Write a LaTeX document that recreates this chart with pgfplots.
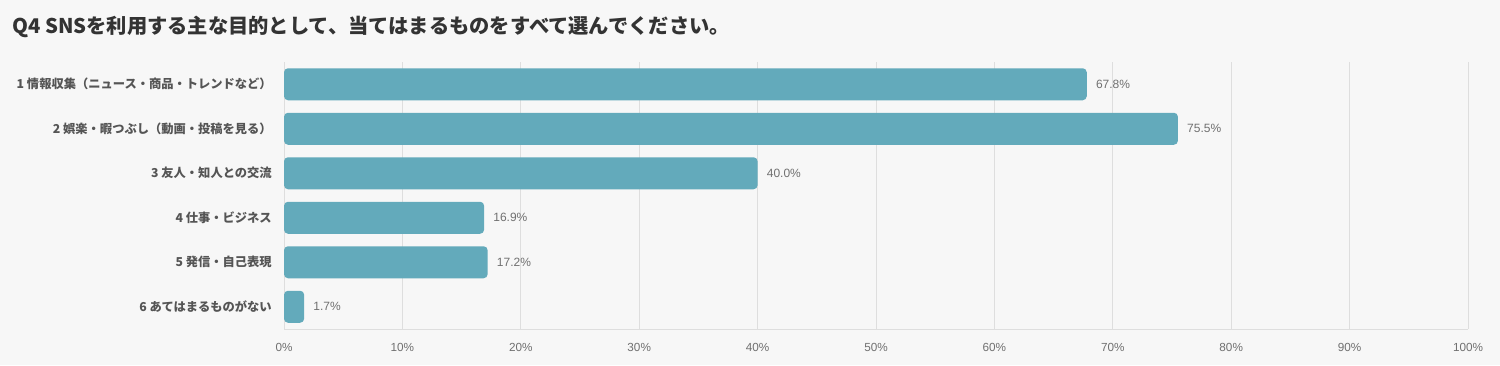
\documentclass[border=0pt]{standalone}
\usepackage{pgfplots}
\pgfplotsset{compat=1.18}
\usepackage{fontspec}
\setmainfont{Liberation Sans}
\newfontfamily\cjk{Noto Sans CJK JP}
\definecolor{bg}{HTML}{F7F7F7}
\definecolor{barc}{HTML}{63AABB}
\definecolor{gridc}{HTML}{DEDEDE}
\definecolor{labc}{HTML}{555555}
\definecolor{tickc}{HTML}{707070}
\definecolor{titc}{HTML}{333333}
\begin{document}
\begin{tikzpicture}
\useasboundingbox (0,0) rectangle (1125pt,273.75pt);
\fill[bg] (0,0) rectangle (1125pt,273.75pt);
\node[anchor=west, inner sep=0pt, text=titc, font=\cjk\bfseries\fontsize{15.2pt}{18pt}\selectfont] at (9pt,253.5pt) {Q4 SNSを利用する主な目的として、当てはまるものをすべて選んでください。};
\begin{axis}[
  at={(213pt,27pt)}, anchor=south west,
  scale only axis, width=888pt, height=200.25pt,
  xbar, bar width=24pt,
  xmin=0, xmax=100, ymin=0.5, ymax=6.5, y dir=reverse,
  xtick={0,10,...,100},
  xticklabels={0\%,10\%,20\%,30\%,40\%,50\%,60\%,70\%,80\%,90\%,100\%},
  ytick={1,2,3,4,5,6},
  yticklabels={1 情報収集（ニュース・商品・トレンドなど）,2 娯楽・暇つぶし（動画・投稿を見る）,3 友人・知人との交流,4 仕事・ビジネス,5 発信・自己表現,6 あてはまるものがない},
  major tick length=0pt,
  xmajorgrids,
  major grid style={gridc, line width=0.75pt},
  axis x line*=bottom, axis y line*=left,
  x axis line style={gridc, line width=0.75pt, -},
  y axis line style={draw=none},
  xticklabel style={anchor=base, yshift=-16.9pt, text=tickc, font=\fontsize{8.8pt}{10pt}\selectfont},
  yticklabel style={anchor=east, inner sep=0pt, xshift=-9pt, text=labc, font=\cjk\bfseries\fontsize{9.2pt}{11pt}\selectfont},
  nodes near coords={\pgfmathprintnumber[fixed,fixed zerofill,precision=1,assume math mode=true]{\pgfplotspointmeta}\%},
  nodes near coords style={anchor=west, inner sep=0pt, xshift=6.75pt, text=tickc, font=\fontsize{9pt}{10pt}\selectfont},
]
\addplot[fill=barc, draw=none, rounded corners=3pt] coordinates {
  (67.8,1) (75.5,2) (40.0,3) (16.9,4) (17.2,5) (1.7,6)
};
\end{axis}
\end{tikzpicture}
\end{document}
